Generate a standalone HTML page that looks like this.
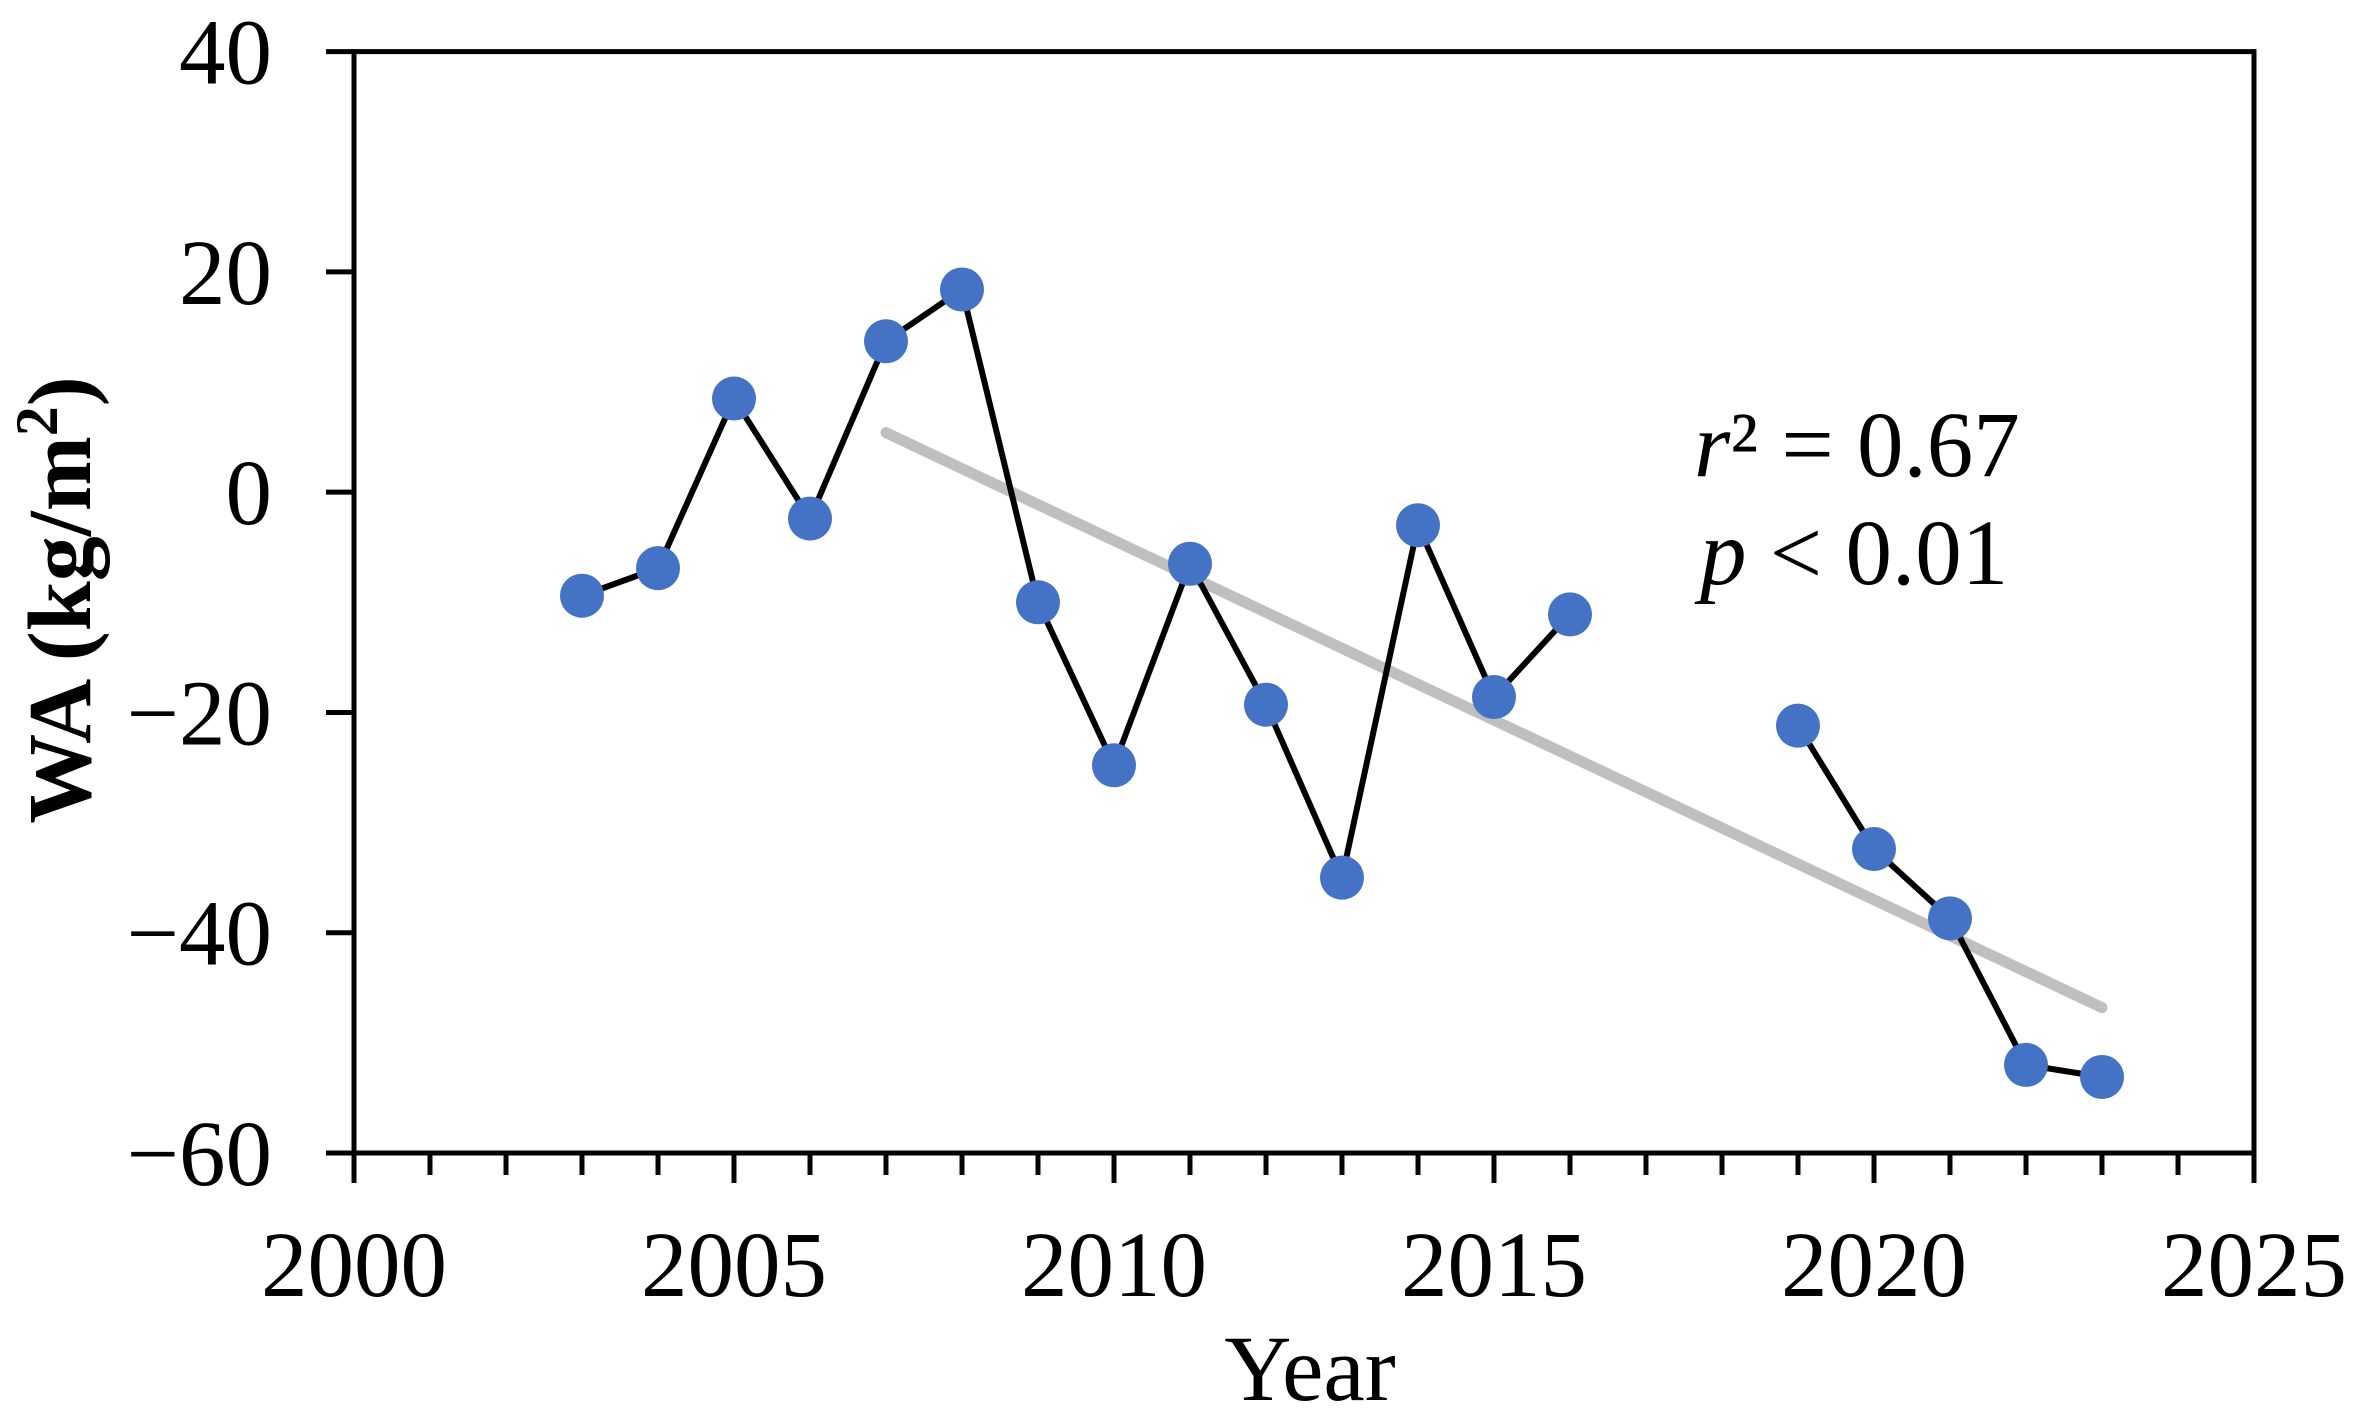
<!DOCTYPE html>
<html><head><meta charset="utf-8"><style>
html,body{margin:0;padding:0;background:#fff}
svg{display:block}
text{font-family:"Liberation Serif",serif;fill:#000}
</style></head><body>
<svg id="chart" width="2361" height="1421" viewBox="0 0 2361 1421" xmlns="http://www.w3.org/2000/svg">
<g id="axes"></g><g id="series"></g>
<text transform="translate(90,600) rotate(-90)" text-anchor="middle" font-size="90" font-weight="bold">WA (kg/m<tspan baseline-shift="super" font-size="60">2</tspan>)</text>
<text x="1310" y="1400" text-anchor="middle" font-size="93">Year</text>
<text x="1694" y="476" font-size="93"><tspan font-style="italic">r</tspan>² = 0.67</text>
<text x="1700" y="584" font-size="93"><tspan font-style="italic">p</tspan> &lt; 0.01</text>
</svg>
<script>
const years=[2003,2004,2005,2006,2007,2008,2009,2010,2011,2012,2013,2014,2015,2016,2019,2020,2021,2022,2023];
const values=[-9.4,-6.9,8.5,-2.4,13.7,18.4,-10.0,-24.8,-6.5,-19.3,-35.0,-3.0,-18.6,-11.1,-21.2,-32.4,-38.7,-52.0,-53.1];
const trendYears=[2007,2023];
const trendValues=[5.4,-46.8];
const yTicks=[40,20,0,-20,-40,-60];
const xTicks=[2000,2005,2010,2015,2020,2025];
const NS='http://www.w3.org/2000/svg';
const L=354,R=2254,T=51.6,B=1153;
const xs=v=>L+(v-2000)/25*(R-L);
const ys=v=>T+(40-v)/100*(B-T);
function mk(tag,attrs,parent){const e=document.createElementNS(NS,tag);for(const k in attrs)e.setAttribute(k,attrs[k]);parent.appendChild(e);return e;}
const ax=document.getElementById('axes'),se=document.getElementById('series');
let f=mk('rect',{x:L,y:T,width:R-L,height:B-T,fill:'none',stroke:'#000','stroke-width':5},ax);


yTicks.forEach(v=>{
  let t=mk('line',{x1:L-28,x2:L,y1:ys(v),y2:ys(v),stroke:'#000','stroke-width':5},ax);
  
  
  let tx=mk('text',{x:272,y:ys(v)+32,'text-anchor':'end','font-size':93},ax);
  tx.textContent=(v<0?'\u2212'+(-v):String(v));
  
  
});
for(let yr=2000;yr<=2025;yr++){
  const major=(yr%5===0);
  let t=mk('line',{x1:xs(yr),x2:xs(yr),y1:B,y2:B+(major?30:22),stroke:'#000','stroke-width':5},ax);
  
  
}
xTicks.forEach(v=>{
  let tx=mk('text',{x:xs(v),y:1296,'text-anchor':'middle','font-size':93},ax);
  tx.textContent=String(v);
  
  
});
let tl=mk('line',{x1:xs(trendYears[0]),y1:ys(trendValues[0]),x2:xs(trendYears[1]),y2:ys(trendValues[1]),stroke:'#bfbfbf','stroke-width':11,'stroke-linecap':'round'},se);


for(let i=1;i<years.length;i++){
  if(years[i]-years[i-1]!==1)continue;
  let s=mk('line',{x1:xs(years[i-1]),y1:ys(values[i-1]),x2:xs(years[i]),y2:ys(values[i]),stroke:'#000','stroke-width':6},se);
  
  
}
years.forEach((yr,i)=>{
  let c=mk('circle',{cx:xs(yr),cy:ys(values[i]),r:22,fill:'#4472c4'},se);
  
  
});
</script>
</body></html>
